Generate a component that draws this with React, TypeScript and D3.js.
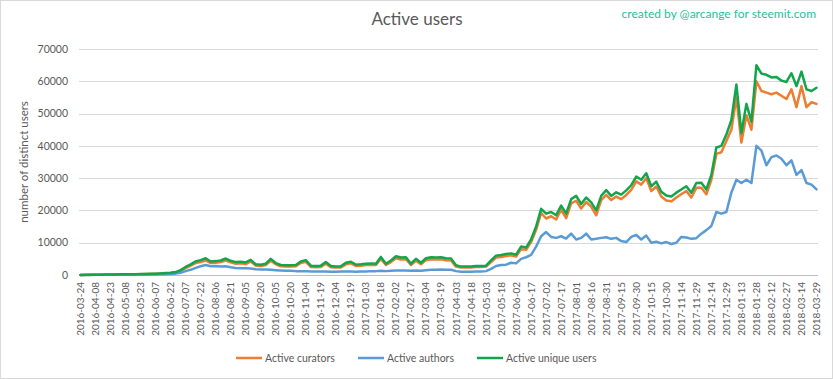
import React from "react";
import * as d3 from "d3";

const START = "2016-03-24";
const STEP_DAYS = 5;

const curators = [
  20, 30, 50, 70, 90, 100, 130, 150, 170, 190, 220, 240, 260,
  280, 300, 350, 430, 520, 600, 780,
  1300, 2100, 2900, 3700, 4000, 4500, 3700, 3800, 4000, 4500,
  3900, 3500, 3600, 3400, 4200, 2900, 2800, 3100, 4400, 3300,
  2700, 2600, 2600, 2700, 3700, 4100, 2500, 2400, 2500, 3500,
  2400, 2300, 2300, 3300, 3600, 2800, 2900, 3100, 3200, 3100,
  5000, 3100, 4000, 5200, 4800, 4900, 3100, 4400, 3300, 4600,
  4900, 4800, 4900, 4600, 4500, 2600, 2300, 2300, 2300, 2500,
  2500, 2600, 4000, 5400, 5600, 5900, 6100, 5700, 8000, 7800,
  10200, 14000, 19200, 17500, 18200, 17200, 20200, 17600, 22200, 23000,
  20600, 22600, 21200, 18500, 23200, 24800, 23200, 24300, 23500, 24800,
  26400, 29000, 28000, 30000, 26000, 27400, 24300, 23100, 22800, 24000,
  25000, 26000, 24000, 27000, 27000, 25000, 29500, 37500, 38000, 41500,
  45000, 55000, 41000, 49500, 45000, 60000, 57000, 56500, 56000, 56500,
  55500, 54500, 57500, 52000, 58500, 52000, 53500, 53000,
];

const authors = [
  10, 20, 30, 40, 50, 60, 70, 80, 90, 100, 110, 120, 130,
  140, 160, 180, 220, 260, 320, 420,
  700, 1200, 1600, 2200, 2700, 3100, 2700, 2800, 2600, 2700,
  2400, 2200, 2100, 2100, 2000, 1800, 1700, 1700, 1600, 1500,
  1400, 1300, 1300, 1200, 1200, 1200, 1100, 1100, 1100, 1100,
  1000, 1000, 1100, 1100, 1100, 1000, 1100, 1100, 1200, 1200,
  1300, 1200, 1300, 1400, 1400, 1400, 1300, 1400, 1300, 1500,
  1600, 1600, 1700, 1600, 1600, 1200, 1000, 1000, 1000, 1100,
  1100, 1200, 1900, 2800, 3100, 3200, 3800, 3600, 5000, 5500,
  6200, 8800, 12000, 13300, 11800, 11500, 12000, 11300, 12800, 11000,
  11500, 12800, 11000, 11200, 11500, 11700, 11200, 11500, 10500, 10200,
  11800, 12400, 11000, 12200, 10000, 10300, 9800, 10200, 9600, 10000,
  11800, 11600, 11200, 11400, 12800, 13900, 15200, 19500, 19000, 19500,
  25500, 29500, 28500, 29500, 28500, 40000, 38500, 34000, 36500, 37000,
  36000, 34000, 35500, 31000, 32500, 28500, 28000, 26500,
];

const uniqueUsers = [
  30, 40, 60, 80, 100, 120, 150, 170, 200, 220, 250, 270, 300,
  320, 350, 400, 500, 600, 700, 900,
  1500, 2500, 3300, 4200, 4600, 5200, 4200, 4300, 4500, 5100,
  4400, 4000, 4100, 3900, 4700, 3300, 3200, 3500, 5000, 3700,
  3100, 3000, 3000, 3100, 4200, 4600, 2900, 2800, 2900, 4000,
  2800, 2600, 2700, 3800, 4100, 3200, 3300, 3500, 3600, 3500,
  5600, 3500, 4500, 5800, 5400, 5500, 3500, 5000, 3800, 5200,
  5500, 5400, 5500, 5200, 5100, 3000, 2600, 2600, 2600, 2800,
  2800, 2900, 4500, 6000, 6200, 6500, 6700, 6300, 8800, 8500,
  11000, 15000, 20500, 19000, 19500, 18500, 21500, 19000, 23500, 24500,
  22000, 24000, 22500, 20000, 24500, 26300, 24500, 25600, 24900, 26200,
  27800, 30500, 29500, 31500, 27500, 28900, 25800, 24600, 24300, 25500,
  26500, 27500, 25500, 28500, 28600, 26500, 31000, 39500, 40000, 43500,
  48000, 59000, 44000, 53000, 47500, 65000, 62400, 62000, 61200, 61300,
  60200, 59800, 62500, 58500, 63000, 57500, 57000, 58000,
];

const tickLabels = [
  "2016-03-24", "2016-04-08", "2016-04-23", "2016-05-08", "2016-05-23",
  "2016-06-07", "2016-06-22", "2016-07-07", "2016-07-22", "2016-08-06",
  "2016-08-21", "2016-09-05", "2016-09-20", "2016-10-05", "2016-10-20",
  "2016-11-04", "2016-11-19", "2016-12-04", "2016-12-19", "2017-01-03",
  "2017-01-18", "2017-02-02", "2017-02-17", "2017-03-04", "2017-03-19",
  "2017-04-03", "2017-04-18", "2017-05-03", "2017-05-18", "2017-06-02",
  "2017-06-17", "2017-07-02", "2017-07-17", "2017-08-01", "2017-08-16",
  "2017-08-31", "2017-09-15", "2017-09-30", "2017-10-15", "2017-10-30",
  "2017-11-14", "2017-11-29", "2017-12-14", "2017-12-29", "2018-01-13",
  "2018-01-28", "2018-02-12", "2018-02-27", "2018-03-14", "2018-03-29",
];

const yTicks = [0, 10000, 20000, 30000, 40000, 50000, 60000, 70000];

const seriesNames = ["Active curators", "Active authors", "Active unique users"];
const seriesColors = ["#ED7D31", "#5B9BD5", "#12A54B"];

const W = 833;
const H = 379;
const FONT = "Lato, 'Open Sans', sans-serif";
const TEXT = "#595959";

const parse = d3.utcParse("%Y-%m-%d");

export default function App() {
  const start = parse(START) as Date;
  const end = parse(tickLabels[tickLabels.length - 1]) as Date;
  const x = d3.scaleUtc().domain([start, end]).range([80.5, 816.5]);
  const y = d3.scaleLinear().domain([0, 70000]).range([275, 49]);

  const dateAt = (i: number) => d3.utcDay.offset(start, i * STEP_DAYS);
  const line = d3
    .line<number>()
    .x((_, i) => x(dateAt(i)))
    .y((v) => y(v))
    .curve(d3.curveLinear);

  const allSeries = [curators, authors, uniqueUsers];

  const legendX = [236, 358, 477];

  return (
    <svg
      width={W}
      height={H}
      style={{ position: "absolute", left: 0, top: 0, background: "#fff" }}
      fontFamily={FONT}
    >
      <rect x={0.5} y={0.5} width={W - 1} height={H - 1} fill="#fff" stroke="#d9d9d9" />
      <text x={417} y={25} textAnchor="middle" fontSize={17} fill={TEXT}>
        Active users
      </text>
      <text x={816} y={18} textAnchor="end" fontSize={12} fill="#26C19B">
        created by @arcange for steemit.com
      </text>

      {yTicks.map((t) => (
        <g key={t}>
          <line
            x1={79}
            x2={818}
            y1={Math.round(y(t)) + 0.5}
            y2={Math.round(y(t)) + 0.5}
            stroke={t === 0 ? "#bfbfbf" : "#d9d9d9"}
            strokeWidth={1}
          />
          <text
            x={68}
            y={y(t)}
            dy="0.35em"
            textAnchor="end"
            fontSize={10.5}
            fill={TEXT}
          >
            {t}
          </text>
        </g>
      ))}

      <text
        transform={`translate(28,${(49 + 275) / 2}) rotate(-90)`}
        textAnchor="middle"
        fontSize={11.5}
        fill={TEXT}
      >
        number of distinct users
      </text>

      {tickLabels.map((lab) => {
        const px = x(parse(lab) as Date);
        return (
          <text
            key={lab}
            transform={`translate(${px},282) rotate(-90)`}
            textAnchor="end"
            dy="0.35em"
            fontSize={10}
            fill={TEXT}
          >
            {lab}
          </text>
        );
      })}

      {allSeries.map((s, k) => (
        <path
          key={k}
          d={line(s) || ""}
          fill="none"
          stroke={seriesColors[k]}
          strokeWidth={2.5}
          strokeLinejoin="round"
          strokeLinecap="round"
        />
      ))}

      {seriesNames.map((n, k) => (
        <g key={n}>
          <line
            x1={legendX[k]}
            x2={legendX[k] + 26}
            y1={358}
            y2={358}
            stroke={seriesColors[k]}
            strokeWidth={2.5}
          />
          <text x={legendX[k] + 29} y={358} dy="0.35em" fontSize={10.5} fill={TEXT}>
            {n}
          </text>
        </g>
      ))}
    </svg>
  );
}
